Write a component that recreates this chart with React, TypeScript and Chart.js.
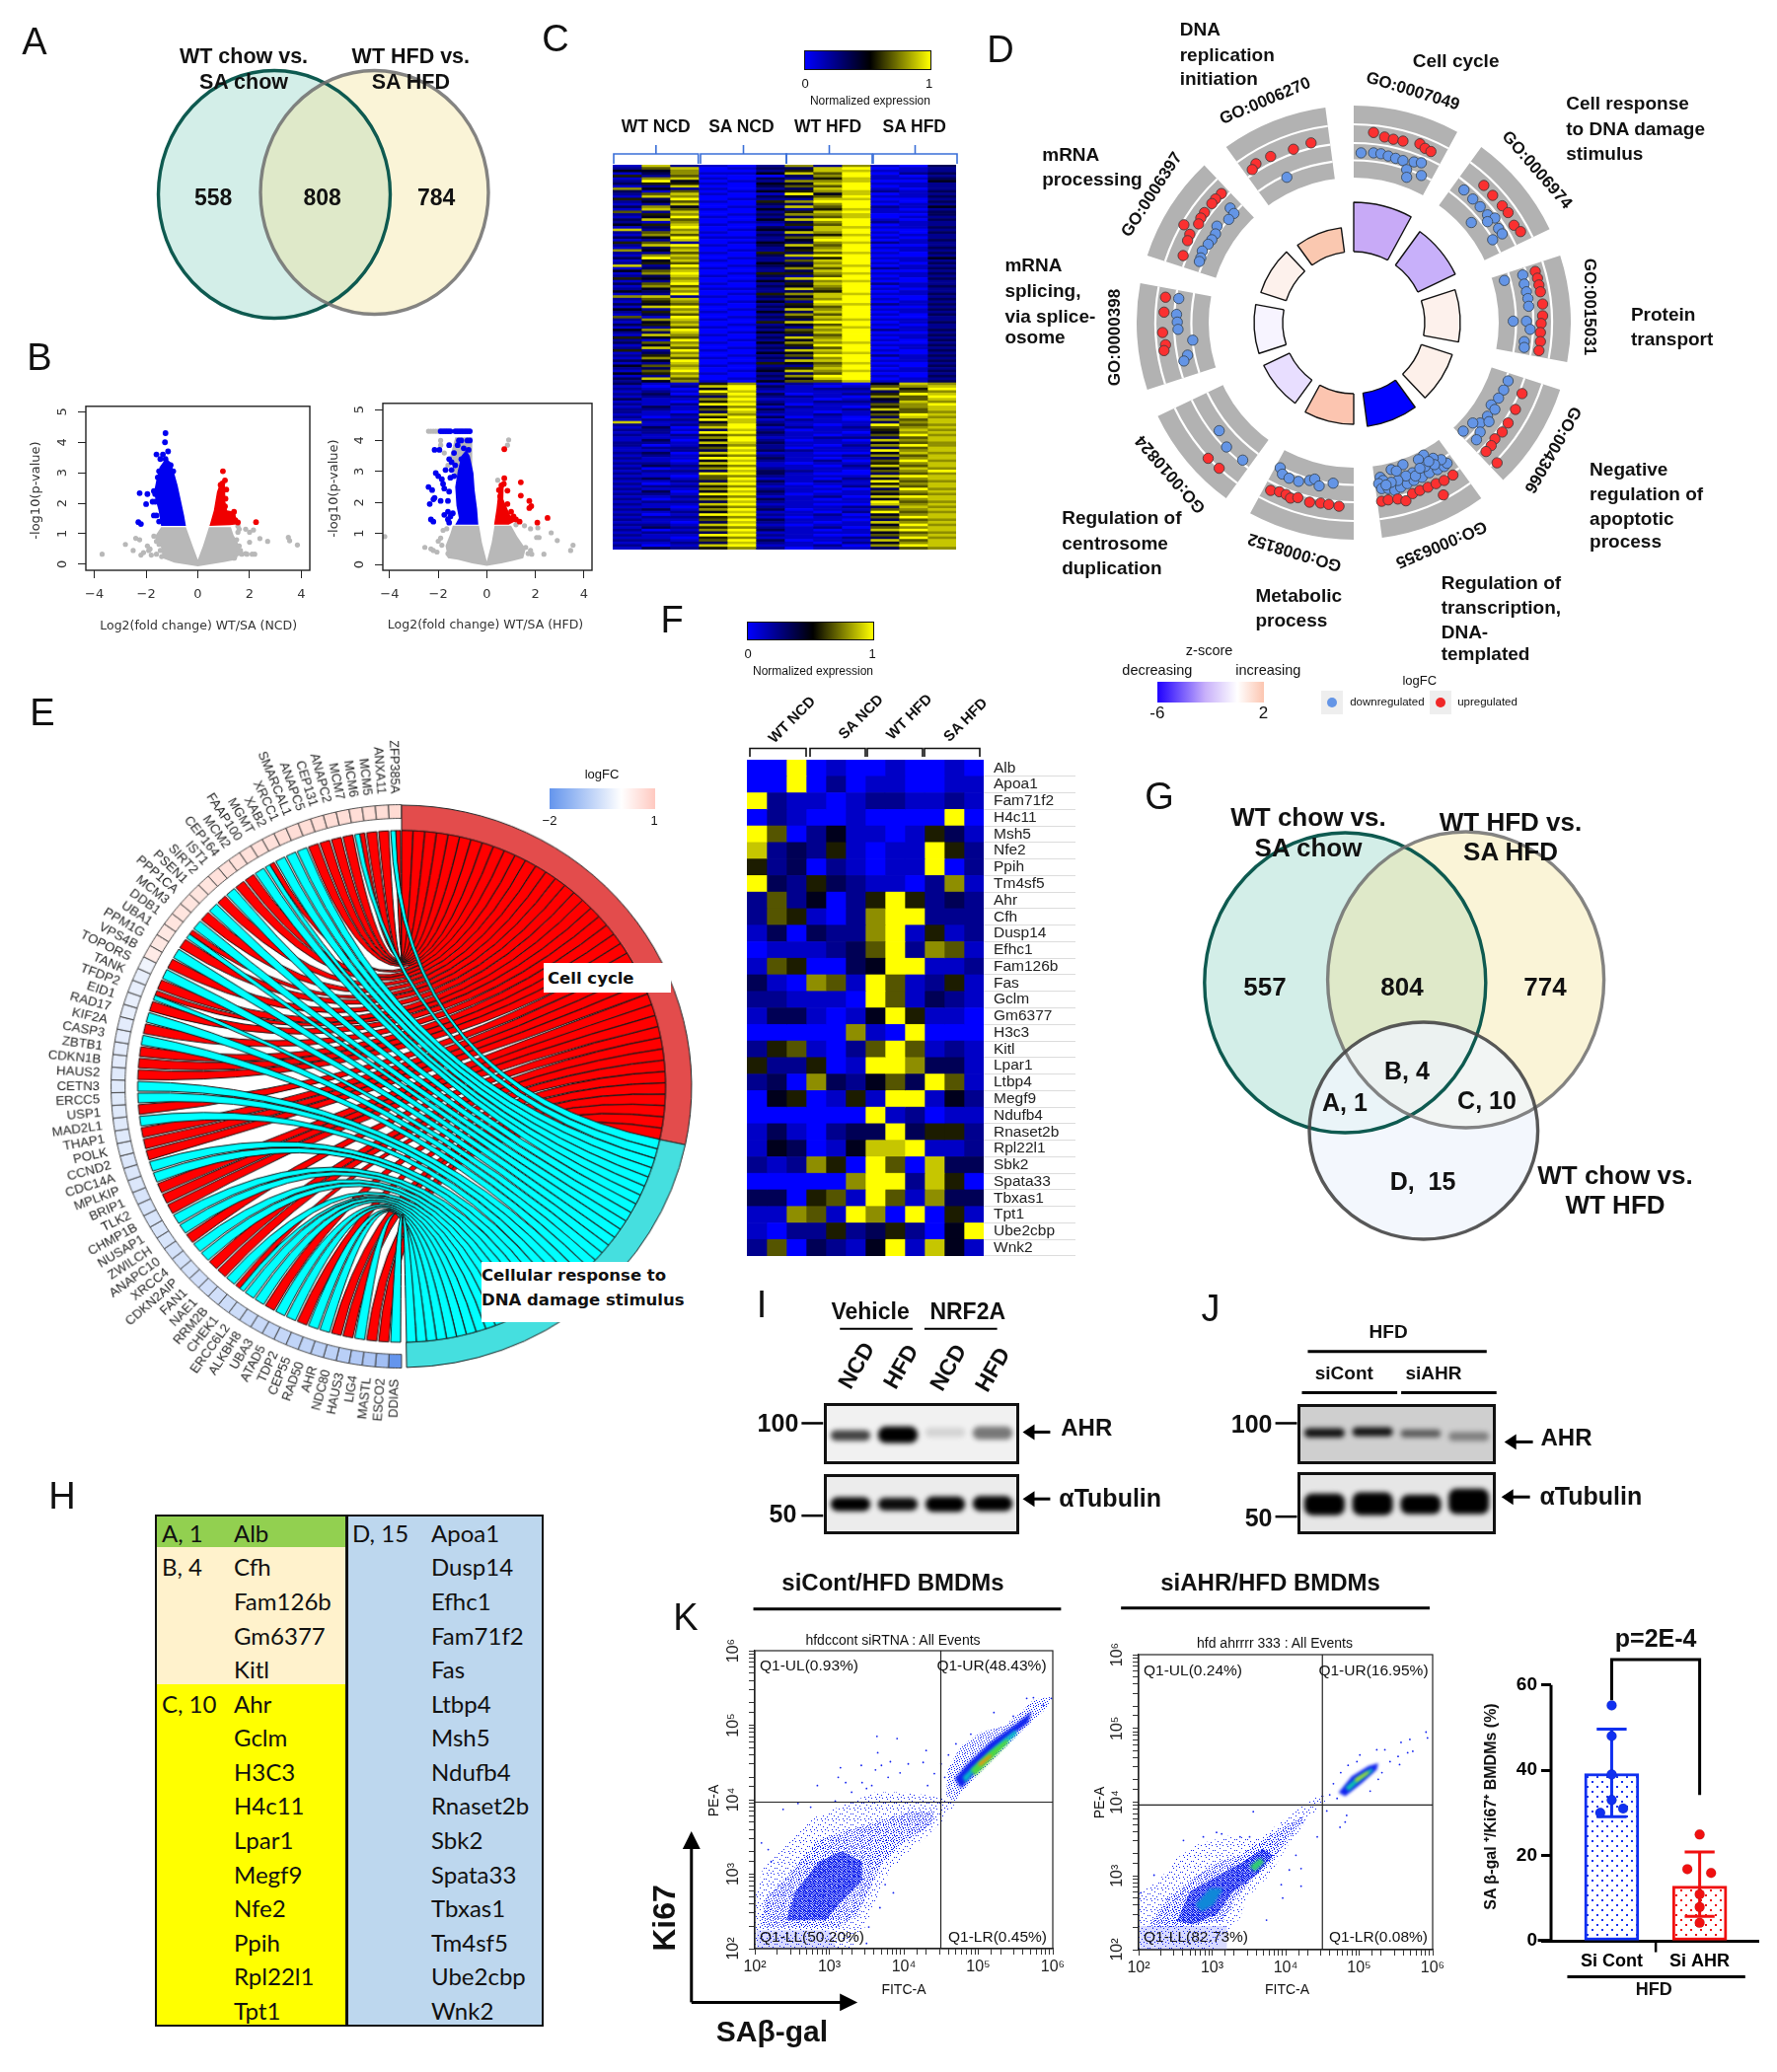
import React, { useEffect, useRef } from 'react';
import { Chart, registerables } from 'chart.js';

Chart.register(...registerables);
Chart.defaults.font.family = '"Liberation Sans", Arial, sans-serif';
Chart.defaults.color = '#222';

type Pt = number[];

// ---------- Venn sets (centre x, centre y, radius x, radius y, in panel units)
const vennA = [
  [128, 137, 117.5, 125.5, 'rgba(150,215,200,.42)', '#0e5a50'],
  [229.5, 135, 115.5, 123.5, 'rgba(243,225,150,.38)', 'rgba(110,110,110,.85)'],
];
const vennG = [
  [153.3, 176, 142.5, 152, 'rgba(150,215,200,.42)', '#0e5a50'],
  [275.6, 173, 140, 150, 'rgba(243,225,150,.38)', 'rgba(110,110,110,.85)'],
  [232.8, 326, 115.8, 110, 'rgba(240,245,252,.78)', 'rgba(70,70,70,.9)'],
];

// ---------- Volcano NCD
const v1GrayCloud: Pt[] = [[-1.42, 1.22], [-1.67, 0.9], [-1.42, 0.55], [-1.36, 0.2], [-0.91, 0.05], [0, -0.07], [1.0, 0.07], [1.5, 0.15], [1.64, 0.55], [1.38, 0.96], [1.28, 1.22], [0.43, 1.22], [0.2, 0.6], [0, 0.15], [-0.2, 0.6], [-0.46, 1.22]];
const v1Gray: Pt[] = [[-3.7, 0.33], [-2.8, 0.65], [-2.5, 0.45], [-2.4, 0.85], [-2.25, 0.8], [-2.2, 0.3], [-2.1, 0.38], [-1.95, 0.6], [-1.9, 0.45], [-1.85, 0.5], [-1.6, 0.33], [-1.8, 0.3], [-1.7, 0.92], [-1.6, 0.75], [-1.5, 0.65], [-1.45, 0.45], [-1.4, 0.25], [1.55, 1.25], [1.6, 1.15], [1.55, 1.05], [1.5, 0.8], [1.6, 0.6], [1.65, 0.45], [1.55, 0.35], [1.4, 0.2], [1.85, 1.15], [2.0, 1.05], [2.15, 1.12], [2.0, 0.72], [2.4, 0.84], [2.7, 0.75], [3.5, 0.88], [3.55, 0.77], [3.85, 0.63], [1.7, 0.33], [1.85, 0.35], [1.9, 0.33], [2.1, 0.33], [2.2, 0.33]];
const v1BlueCloud: Pt[] = [[-0.46, 1.26], [-0.53, 1.6], [-0.65, 2.07], [-0.78, 2.58], [-0.91, 2.98], [-1.04, 3.33], [-1.23, 3.48], [-1.48, 3.18], [-1.6, 2.78], [-1.67, 2.47], [-1.65, 2.17], [-1.52, 1.77], [-1.42, 1.26]];
const v1Blue: Pt[] = [[-2.25, 2.33], [-1.95, 2.3], [-2.0, 1.97], [-1.75, 2.05], [-2.3, 1.38], [-2.2, 1.32], [-1.25, 4.3], [-1.27, 4.0], [-1.6, 3.6], [-1.35, 3.6], [-1.15, 3.7], [-1.45, 3.45], [-1.25, 3.45], [-1.7, 2.4], [-1.65, 2.3], [-1.55, 2.85], [-1.5, 3.05], [-1.05, 3.25], [-0.95, 3.05], [-1.7, 1.6], [-1.6, 1.6], [-1.5, 1.4], [-1.65, 2.05]];
const v1RedCloud: Pt[] = [[0.45, 1.26], [0.62, 1.77], [0.74, 2.37], [0.87, 2.68], [1.02, 2.78], [1.06, 2.47], [1.06, 2.07], [1.13, 1.77], [1.44, 1.72], [1.5, 1.41], [1.57, 1.31], [1.25, 1.28]];
const v1Red: Pt[] = [[0.97, 3.05], [1.05, 2.75], [0.88, 2.6], [0.95, 2.65], [1.1, 2.45], [1.07, 2.15], [1.05, 1.9], [1.2, 1.65], [1.4, 1.72], [1.45, 1.45], [1.55, 1.37], [2.25, 1.38]];

// ---------- Volcano HFD
const v2GrayCloud: Pt[] = [[0, -0.05], [-0.6, 0.03], [-1.2, 0.15], [-1.6, 0.2], [-1.7, 0.6], [-1.5, 1.0], [-1.4, 1.25], [-0.32, 1.25], [-0.2, 0.7], [-0.07, 0.3], [0, 0.1], [0.07, 0.3], [0.2, 0.7], [0.32, 1.25], [1.0, 1.25], [1.25, 0.9], [1.6, 0.5], [1.5, 0.2], [1.1, 0.12], [0.6, 0.03]];
const v2GrayColumn: Pt[] = [[-0.6, 2.8], [-0.6, 4.1], [-1.3, 4.1], [-1.5, 3.5], [-1.3, 2.8]];
const v2Gray: Pt[] = [[-4.2, 0.9], [-2.55, 0.55], [-2.3, 0.5], [-2.2, 0.45], [-2.05, 0.4], [-2.0, 0.75], [-1.9, 0.85], [-1.85, 0.62], [-1.8, 1.1], [-1.65, 1.15], [-1.6, 0.35], [-1.55, 0.3], [-2.4, 4.3], [-2.3, 4.3], [-2.2, 4.3], [-2.1, 4.3], [-2.0, 4.3], [-1.95, 4.3], [-1.9, 4.0], [-1.9, 3.85], [-1.75, 3.6], [-1.6, 3.2], [0.9, 4.02], [0.85, 3.85], [0.45, 2.72], [1.2, 1.28], [1.55, 1.25], [1.8, 1.15], [2.1, 1.18], [2.65, 1.02], [2.05, 0.87], [2.15, 0.87], [2.9, 0.77], [3.55, 0.62], [3.45, 0.45], [2.35, 0.33], [1.7, 0.35], [1.8, 0.45], [1.85, 0.33], [1.6, 0.55], [1.4, 0.4]];
const v2BlueCloud: Pt[] = [[-0.35, 1.28], [-0.4, 1.8], [-0.5, 2.4], [-0.55, 2.95], [-0.7, 3.5], [-0.85, 3.7], [-1.05, 3.5], [-1.2, 3.0], [-1.3, 2.5], [-1.25, 1.9], [-1.15, 1.5], [-1.3, 1.28]];
const v2Blue: Pt[] = [[-2.4, 2.5], [-2.25, 2.4], [-2.35, 1.95], [-2.2, 2.1], [-2.15, 2.15], [-2.3, 1.45], [-2.2, 1.38], [-2.1, 2.95], [-2.15, 3.7], [-1.95, 3.7], [-2.0, 2.85], [-1.85, 2.75], [-1.8, 2.6], [-1.75, 2.45], [-1.9, 2.05], [-1.6, 2.05], [-1.55, 2.35], [-1.5, 2.8], [-1.45, 3.05], [-1.45, 3.3], [-1.35, 3.6], [-1.55, 3.4], [-1.7, 3.05], [-1.75, 1.6], [-1.6, 1.7], [-1.55, 1.35], [-1.6, 1.45], [-1.5, 1.55], [-1.4, 1.65], [-1.9, 4.3], [-1.8, 4.3], [-1.7, 4.3], [-1.6, 4.3], [-1.5, 4.3], [-1.3, 4.3], [-1.2, 4.3], [-1.1, 4.3], [-1.0, 4.3], [-0.9, 4.3], [-0.8, 4.3], [-0.7, 4.3], [-1.15, 4.0], [-1.05, 4.0], [-0.8, 4.0], [-0.7, 4.0], [-1.55, 3.85], [-1.2, 3.85], [-0.95, 3.75], [-0.75, 3.7], [-1.05, 3.4], [-1.35, 2.85], [-1.3, 3.2]];
const v2RedCloud: Pt[] = [[0.3, 1.28], [0.4, 1.8], [0.5, 2.5], [0.7, 2.7], [0.68, 2.1], [0.95, 1.6], [1.2, 1.4], [0.9, 1.28]];
const v2Red: Pt[] = [[0.72, 3.72], [0.72, 2.78], [0.7, 2.6], [0.6, 2.55], [0.5, 2.4], [0.55, 2.2], [1.4, 2.65], [0.85, 2.38], [1.75, 2.05], [1.4, 2.22], [1.83, 1.88], [1.75, 1.82], [0.85, 1.95], [1.0, 1.7], [1.2, 1.45], [1.35, 1.38], [2.08, 1.35], [2.5, 1.5], [1.1, 1.55], [0.75, 1.5]];

// ---------- Heatmap C, one digit per sample per gene (0 = low, 9 = high)
const heatCSamples = ['WT NCD 1', 'WT NCD 2', 'WT NCD 3', 'SA NCD 1', 'SA NCD 2', 'SA NCD 3', 'WT HFD 1', 'WT HFD 2', 'WT HFD 3', 'SA HFD 1', 'SA HFD 2', 'SA HFD 3'];
const heatCRows = [
  '182102727103', '268013389012', '447002588112', '137114869023', '526000379102', '178103258113', '294012778004', '355104489112', '128003669012', '742102389102',
  '316014578213', '268101948012', '187003469113', '539012288002', '246105799103', '128003379012', '374012869214', '186104258102', '628002589113', '257013778003',
  '149102368012', '386004899103', '217012379212', '458101569012', '139003288113', '827014489002', '268102879103', '176003358012', '349112689102', '128002499013',
  '562014378212', '289103869002', '137002479113', '748012589012', '226105368103', '178003899002', '397012259114', '148102689012', '256004379103', '829013488012',
  '137102769213', '468002389002', '179015578113', '238103269012', '547002899103', '128014378002', '369102589212', '176003479013', '248112869102', '437002359012',
  '129015788113', '782103489002', '268002679103', '157014299012', '346102588213', '189003469002', '427012879113', '258104389012', '136002769103', '619013589002',
  '278102378112', '147005899013', '358012469102', '126103288012', '479002679213', '238014589002', '187102369113', '546003879012', '219012489103', '367104778002',
  '148002599113', '286013369012', '529102889103', '137004478002', '258012699213', '176103379012', '349002889113', '128015468002', '467102279103', '238003589012',
  '169014878113', '457102369002', '128003799103', '386012489012', '247104668113',
  '311571210487', '102893101678', '210492122859', '121981111367', '230693012598', '122382210769', '311791101468', '110582122387', '212993011679', '131471210578',
  '221693112868', '210382101467', '112871121698', '201593010387', '122981210768', '811482111378', '212693101967', '130891212678', '221382011587', '120993110478',
  '212572101697', '111791122368', '130492010878', '221883111467', '201472102797', '122692011368', '112383211978', '230891100487', '121572112768', '211993101378',
  '110482120697', '221891011578', '132571102868', '201792111487', '122383210679', '211993100367', '110672111898', '231691102478', '112383121967', '201892011578',
  '122571102868', '211792110397', '130483101678', '221992011467', '112571120898', '201793101478', '122382111967', '211891100878', '110572112387', '231793011678',
  '112481102967', '201992120478', '122571011698', '211693110367', '110382101878', '221891011497', '132572120678', '201793101898', '122381111467', '211992100678',
  '110571112397', '221693011868', '112382102478', '201891120798', '132572011367',
];

// ---------- Heatmap F
const heatFGenes = ['Alb', 'Apoa1', 'Fam71f2', 'H4c11', 'Msh5', 'Nfe2', 'Ppih', 'Tm4sf5', 'Ahr', 'Cfh', 'Dusp14', 'Efhc1', 'Fam126b', 'Fas', 'Gclm', 'Gm6377', 'H3c3', 'Kitl', 'Lpar1', 'Ltbp4', 'Megf9', 'Ndufb4', 'Rnaset2b', 'Rpl22l1', 'Sbk2', 'Spata33', 'Tbxas1', 'Tpt1', 'Ube2cbp', 'Wnk2'];
const heatFRows = [
  '009010010010', '009020110011', '921101221121', '021001000090', '960241101531', '823251011952', '523021011902', '932532110271',
  '262402595232', '265102799222', '130322791512', '011123692761', '165003499112', '310761961251', '221110961321', '133101495110',
  '000007109000', '256102696121', '522501997331', '230732463961', '045015199142', '000000912011', '131023393552', '143014889112',
  '212750960833', '000007992850', '330561961733', '117619709051', '102252352049', '260321491841',
];

// ---------- Panel D: GO terms clockwise from the top, z-score ring
const goTerms = ['GO:0007049', 'GO:0006974', 'GO:0015031', 'GO:0043066', 'GO:0006355', 'GO:0008152', 'GO:0010824', 'GO:0000398', 'GO:0006397', 'GO:0006270'];
const goRingHeight = [122, 114, 108, 105, 106, 103, 101, 101, 99, 97];
const goRingColor = ['#c8aaf7', '#c8b0fa', '#fdf1ec', '#fdf0ea', '#0000ff', '#fcc5b0', '#e8deff', '#f7f4ff', '#fdf1ec', '#fac8b0'];
const goDown: Pt[] = [[1018, 318], [1035, 318], [1045, 320], [1055, 325], [1065, 330], [1075, 335], [1090, 338], [1100, 340], [1080, 355], [1080, 372], [1100, 368],
  [1158, 400], [1170, 420], [1180, 437], [1190, 455], [1200, 462], [1190, 470], [1205, 485], [1210, 497], [1197, 510], [1168, 472],
  [1213, 600], [1238, 588], [1240, 608], [1243, 625], [1245, 640], [1246, 657], [1225, 690], [1243, 690], [1248, 708], [1240, 735], [1240, 748],
  [1218, 822], [1212, 842], [1205, 860], [1195, 875], [1200, 885], [1190, 900], [1180, 915], [1192, 912], [1170, 915], [1157, 933], [1180, 935], [1175, 952],
  [1044, 1035], [1048, 1042], [1042, 1049], [1046, 1060], [1055, 1060], [1064, 1064], [1072, 1057], [1081, 1049], [1090, 1042], [1101, 1035], [1111, 1025], [1122, 1018], [1131, 1011], [1135, 1004], [1127, 996], [1116, 993], [1103, 986], [1096, 996], [1105, 1011], [1088, 1025], [1079, 1032], [1068, 1042], [1059, 1046], [1059, 1018], [1075, 1007], [1066, 1021], [1092, 1032], [1118, 1007], [1110, 1000], [1098, 1015], [1052, 1052],
  [908, 1014], [911, 1028], [920, 1037], [933, 1044], [948, 1042], [955, 1039], [961, 1054], [980, 1048],
  [825, 932], [835, 968], [857, 997],
  [770, 640], [767, 675], [768, 692], [769, 708], [789, 732], [782, 765], [777, 778],
  [840, 440], [845, 452], [838, 465], [822, 480], [820, 497], [815, 510], [810, 520], [802, 535], [800, 550], [798, 558],
  [917, 372]];
const goUp: Pt[] = [[1035, 273], [1050, 283], [1062, 288], [1075, 292], [1098, 298], [1105, 308], [1113, 315],
  [1185, 390], [1197, 412], [1210, 435], [1218, 450], [1226, 478], [1235, 492],
  [1255, 580], [1258, 595], [1260, 610], [1262, 625], [1265, 652], [1265, 678], [1263, 695], [1262, 715], [1262, 735], [1260, 755],
  [1237, 850], [1228, 885], [1218, 915], [1210, 935], [1200, 950], [1195, 965], [1188, 978], [1203, 1003],
  [1046, 1088], [1055, 1085], [1068, 1083], [1079, 1087], [1088, 1071], [1098, 1064], [1109, 1057], [1120, 1049], [1131, 1042], [1143, 1030], [1130, 1074],
  [895, 1064], [907, 1067], [916, 1073], [922, 1081], [932, 1080], [948, 1090], [963, 1092], [974, 1095], [988, 1099],
  [810, 993], [825, 1015],
  [752, 637], [750, 670], [748, 715], [752, 742], [750, 755],
  [828, 408], [820, 420], [815, 430], [805, 450], [800, 462], [797, 475], [777, 477], [785, 498], [782, 512], [776, 545],
  [950, 296], [926, 310], [895, 326], [875, 342], [870, 355]];

// ---------- Panel E chord
const chordTermSpan = [102, 77];
const chordGenes = ['ZFP385A', 'ANXA11', 'MCM5', 'MCM6', 'MCM7', 'ANAPC2', 'CEP131', 'ANAPC5', 'SMARCAL1', 'XRCC1', 'XAB2', 'MGMT', 'FAAP100', 'MCM2', 'CEP164', 'IST1', 'SIRT2', 'PSEN1', 'PPP1CA', 'MCM3', 'DDB1', 'UBA1', 'PPM1G', 'VPS4B', 'TOPORS', 'TANK', 'TFDP2', 'EID1', 'RAD17', 'KIF2A', 'CASP3', 'ZBTB1', 'CDKN1B', 'HAUS2', 'CETN3', 'ERCC5', 'USP1', 'MAD2L1', 'THAP1', 'POLK', 'CCND2', 'CDC14A', 'MPLKIP', 'BRIP1', 'TLK2', 'CHMP1B', 'NUSAP1', 'ZWILCH', 'ANAPC10', 'XRCC4', 'CDKN2AIP', 'FAN1', 'NAE1', 'RRM2B', 'CHEK1', 'ERCC6L2', 'ALKBH8', 'UBA3', 'ATAD5', 'TDP2', 'CEP55', 'RAD50', 'AHR', 'NDC80', 'HAUS3', 'LIG4', 'MASTL', 'ESCO2', 'DDIAS'];
const chordLinks = ['rc', 'r', 'r', 'rc', 'r', 'r', 'r', 'r', 'c', 'c', 'c', 'rc', 'c', 'r', 'r', 'c', 'r', 'c', 'r', 'c', 'rc', 'r', 'c', 'r', 'c', 'r', 'rc', 'r', 'c', 'r', 'c', 'r', 'r', 'r', 'c', 'c', 'r', 'c', 'r', 'r', 'r', 'c', 'c', 'r', 'r', 'r', 'c', 'c', 'r', 'c', 'c', 'r', 'r', 'c', 'rc', 'c', 'c', 'r', 'c', 'c', 'r', 'c', 'c', 'r', 'r', 'c', 'r', 'r', 'c'];
const chordLogFC = [.55, .5, .5, .5, .5, .5, .5, .5, .5, .5, .45, .45, .45, .45, .45, .45, .4, .4, .4, .4, .4, .35, .35, .3, -.2, -.3, -.3, -.3, -.3, -.35, -.35, -.35, -.35, -.4, -.4, -.4, -.4, -.4, -.4, -.4, -.45, -.45, -.45, -.5, -.5, -.5, -.5, -.5, -.55, -.55, -.55, -.6, -.6, -.6, -.65, -.65, -.7, -.7, -.75, -.75, -.8, -.8, -.85, -.85, -.9, -1, -1.05, -1.2, -2];

// ---------- Table H
const tableLeft = [['A, 1', 'Alb', '#92d050'], ['B, 4', 'Cfh', '#fff2cc'], ['', 'Fam126b', '#fff2cc'], ['', 'Gm6377', '#fff2cc'], ['', 'Kitl', '#fff2cc'], ['C, 10', 'Ahr', '#ffff00'], ['', 'Gclm', '#ffff00'], ['', 'H3C3', '#ffff00'], ['', 'H4c11', '#ffff00'], ['', 'Lpar1', '#ffff00'], ['', 'Megf9', '#ffff00'], ['', 'Nfe2', '#ffff00'], ['', 'Ppih', '#ffff00'], ['', 'Rpl22l1', '#ffff00'], ['', 'Tpt1', '#ffff00']];
const tableRight = ['Apoa1', 'Dusp14', 'Efhc1', 'Fam71f2', 'Fas', 'Ltbp4', 'Msh5', 'Ndufb4', 'Rnaset2b', 'Sbk2', 'Spata33', 'Tbxas1', 'Tm4sf5', 'Ube2cbp', 'Wnk2'];

// ---------- Blots: [low, high, density] per lane
const blotLanes = ['1', '2', '3', '4'];
const blotIAhr = [[.38, .56, .72], [.34, .62, 1], [.44, .6, .12], [.4, .62, .5]];
const blotITub = [[.38, .62, 1], [.39, .61, .95], [.37, .63, 1], [.38, .64, 1]];
const blotJAhr = [[.44, .6, .9], [.46, .62, .9], [.44, .58, .55], [.38, .54, .38]];
const blotJTub = [[.3, .66, 1], [.3, .68, 1], [.32, .64, 1], [.32, .74, 1]];

// ---------- Flow cytometry (log10 FITC, log10 PE)
const flowTicks = [2, 3, 4, 5, 6];
const flow1Gates = [4.497, 3.967];
const flow2Gates = [4.5, 3.962];
const flow1Band: Pt[] = [[2.02, 2], [2.02, 2.25], [3, 2.25], [3.1, 2]];
const flow1Halo: Pt[] = [[2, 2], [2, 2.69], [2.11, 3.08], [2.42, 3.39], [2.77, 3.75], [3.17, 3.92], [3.62, 4.1], [3.97, 4.1], [4.32, 4.06], [4.59, 4.0], [4.68, 3.92], [4.5, 3.7], [4.28, 3.48], [4.01, 3.26], [3.75, 2.95], [3.62, 2.64], [3.48, 2.29], [3.3, 2]];
const flow1Mid: Pt[] = [[2.07, 2.29], [2.15, 2.69], [2.46, 3], [2.82, 3.44], [3.17, 3.57], [3.62, 3.7], [4.06, 3.84], [4.41, 3.84], [4.37, 3.66], [4.01, 3.44], [3.7, 3.13], [3.57, 2.86], [3.39, 2.46], [3.13, 2.29], [2.46, 2.29]];
const flow1Dense: Pt[] = [[2.42, 2.38], [2.55, 2.77], [2.86, 3.17], [3.17, 3.31], [3.44, 3.17], [3.44, 2.91], [3.17, 2.64], [2.95, 2.38]];
const flow1Ur: Pt[] = [[4.59, 4.41], [4.77, 4.72], [5.03, 4.9], [5.34, 4.99], [5.56, 5.16], [5.74, 5.34], [5.98, 5.38], [5.92, 5.23], [5.65, 4.99], [5.38, 4.72], [5.12, 4.46], [4.85, 4.19], [4.68, 3.97], [4.57, 4.06]];
const flow1UrBlue: Pt[] = [[4.68, 4.28], [4.85, 4.48], [5.16, 4.77], [5.52, 5.03], [5.72, 5.19], [5.67, 5.03], [5.38, 4.81], [5.08, 4.5], [4.77, 4.15]];
const flow1UrCyan: Pt[] = [[4.79, 4.3], [4.99, 4.5], [5.25, 4.74], [5.5, 4.94], [5.52, 4.88], [5.21, 4.61], [4.94, 4.37], [4.83, 4.23]];
const flow1UrGreen: Pt[] = [[4.9, 4.4], [5.16, 4.65], [5.38, 4.81], [5.41, 4.77], [5.18, 4.54], [4.96, 4.32]];
const flow1UrRed: Pt[] = [[4.99, 4.48], [5.16, 4.61], [5.18, 4.58], [5.03, 4.45]];
const flow1Sparse: Pt[] = [[3.64, 4.85], [3.91, 4.82], [4.3, 4.66], [3.65, 4.63], [4.26, 4.5], [3.82, 4.51], [3.7, 4.46], [3.43, 4.46], [3.15, 4.43], [3.62, 4.4], [3.12, 4.3], [3.22, 4.23], [2.84, 4.19], [3.44, 4.23], [3.57, 4.19], [3.95, 4.36], [3.79, 4.3], [4.06, 4.48], [2.38, 3.87], [2.09, 3.42], [2.58, 3.95], [2.75, 3.9], [3.08, 3.98], [2.18, 3.33], [2.22, 3.17], [4.9, 4.88], [5.21, 5.17], [5.47, 5.12], [5.65, 5.36], [5.74, 5.37], [5.87, 5.27], [5.98, 5.36], [4.32, 4.19], [4.41, 4.35], [4.5, 4.48], [3.86, 2.75], [3.68, 2.55], [3.5, 2.07], [3.53, 2.29], [3.75, 2.86], [4.55, 4.3], [4.6, 4.6], [4.7, 4.75], [3.3, 4.1], [3.5, 4.15]];
const flow2Band: Pt[] = [[2.02, 2], [2.02, 2.32], [3.2, 2.32], [3.2, 2]];
const flow2Halo: Pt[] = [[2, 2.01], [2, 2.77], [2.26, 2.92], [2.52, 3.24], [2.79, 3.42], [3.24, 3.55], [3.6, 3.5], [3.87, 3.68], [4.23, 3.95], [4.5, 4.13], [4.54, 4.0], [4.27, 3.73], [4.0, 3.37], [3.78, 3.01], [3.47, 2.7], [3.38, 2.43], [3.02, 2.01]];
const flow2Mid: Pt[] = [[2.12, 2.3], [2.39, 2.7], [2.75, 2.97], [3.06, 3.19], [3.38, 3.28], [3.65, 3.46], [4.0, 3.68], [4.23, 3.82], [4.25, 3.73], [4.0, 3.46], [3.78, 3.15], [3.56, 2.97], [3.33, 2.7], [3.15, 2.39], [2.57, 2.3]];
const flow2Dense: Pt[] = [[2.52, 2.39], [2.7, 2.79], [3.02, 2.97], [3.42, 3.19], [3.69, 3.37], [3.83, 3.28], [3.6, 3.01], [3.29, 2.79], [3.06, 2.48], [2.74, 2.34]];
const flow2Cyan: Pt[] = [[2.77, 2.61], [2.97, 2.83], [3.15, 2.83], [3.02, 2.61], [2.86, 2.52]];
const flow2Green: Pt[] = [[3.51, 3.13], [3.65, 3.24], [3.71, 3.19], [3.58, 3.06]];
const flow2Ur: Pt[] = [[4.72, 4.13], [4.9, 4.35], [5.13, 4.49], [5.26, 4.53], [5.24, 4.44], [5.04, 4.26], [4.81, 4.08]];
const flow2UrCyan: Pt[] = [[4.81, 4.2], [4.99, 4.35], [5.17, 4.46], [5.19, 4.42], [5.01, 4.29], [4.86, 4.15]];
const flow2UrYellow: Pt[] = [[4.94, 4.31], [5.12, 4.42], [5.13, 4.39], [4.96, 4.27]];
const flow2Sparse: Pt[] = [[5.91, 4.95], [5.93, 4.87], [5.69, 4.85], [5.57, 4.81], [5.73, 4.69], [5.66, 4.67], [5.53, 4.62], [5.42, 4.55], [5.55, 4.51], [5.35, 4.71], [5.24, 4.71], [5.01, 4.64], [4.97, 4.55], [5.31, 4.4], [5.15, 4.15], [5.26, 4.31], [4.74, 3.66], [4.83, 3.82], [4.81, 3.73], [4.56, 3.88], [4.43, 3.53], [3.56, 3.87], [2.88, 3.53], [2.61, 3.48], [3.06, 3.59], [3.13, 3.57], [3.38, 3.53], [3.51, 3.53], [4.14, 3.28], [4.21, 3.1], [4.21, 2.86], [4.05, 3.08], [3.94, 2.88], [3.96, 2.7], [3.74, 2.4], [2.21, 3.01], [2.03, 2.77], [4.6, 4.1], [4.65, 4.25], [4.75, 4.4], [4.85, 4.5], [4.7, 4.05]];

// ---------- Bar panel K
const barLabels = ['Si Cont', 'Si AHR'];
const barMeans = [39.2, 12.8];
const barTop = [49.6, 20.8];
const barBottom = [29.1, 5.7];
const siContPoints: Pt[] = [[0, 55.2], [0, 48], [0, 39], [0, 33], [0.13, 31], [-0.13, 30]];
const siAhrPoints: Pt[] = [[1, 24.9], [0.86, 16.8], [1.13, 15.9], [1, 10.9], [1, 7.9], [1, 4.2]];
const barBracket: Pt[] = [[0, 56.4], [0, 65.9], [1, 65.9], [1, 34.2]];

// ---------- helpers
const obj = (a: Pt[], xf = (v: number) => v) => a.map(([x, y]) => ({ x: xf(x), y: xf(y) }));
const poly = (a: Pt[], color: any, xf?: (v: number) => number, soft = false) => ({ soft, data: obj(a, xf), showLine: true, fill: 'shape', backgroundColor: color, borderColor: 'transparent', borderWidth: 0, pointRadius: 0 });
const dots = (a: Pt[], color: string, r: number, xf?: (v: number) => number, border?: string) => ({ data: obj(a, xf), backgroundColor: color, borderColor: border || color, borderWidth: border ? 0.9 : 0, pointRadius: r, showLine: false });
const heatColor = (d: number) => {
  const t = d / 9;
  if (t < 0.5) return `rgb(0,0,${Math.round(255 * (1 - 2 * t))})`;
  const v = Math.round(255 * (2 * t - 1));
  return `rgb(${v},${v},0)`;
};
const base = (extra: any = {}) => ({
  responsive: false, animation: false, events: [], maintainAspectRatio: false,
  plugins: { legend: { display: false }, tooltip: { enabled: false } }, ...extra,
});
const stipple = (dot: string, bg: string | null, cells: number[][], size: number) => {
  const tile = document.createElement('canvas');
  tile.width = size; tile.height = size;
  const c = tile.getContext('2d')!;
  if (bg) { c.fillStyle = bg; c.fillRect(0, 0, size, size); }
  c.fillStyle = dot;
  cells.forEach(([x, y, w]) => c.fillRect(x, y, w || 1, w || 1));
  return document.createElement('canvas').getContext('2d')!.createPattern(tile, 'repeat');
};
const frame = (lw: number, color = '#222') => ({
  id: 'frame',
  afterDatasetsDraw(ch: any) {
    const { left, top, width, height } = ch.chartArea; const c = ch.ctx;
    c.save(); c.lineWidth = lw; c.strokeStyle = color; c.strokeRect(left, top, width, height); c.restore();
  },
});
const softLayers = {
  id: 'softLayers',
  beforeDatasetsDraw(ch: any) {
    const n = ch.data.datasets.length - 1;
    ch.ctx.filter = ch.data.datasets[n].soft ? 'blur(1.4px)' : 'none';
  },
  afterDatasetDraw(ch: any, args: any) {
    const next = ch.data.datasets[args.index - 1];
    ch.ctx.filter = next && next.soft ? 'blur(1.4px)' : 'none';
  },
  afterDatasetsDraw(ch: any) { ch.ctx.filter = 'none'; },
};
const ellipses = (list: any[]) => ({
  id: 'ellipses',
  beforeDatasetsDraw(ch: any) {
    const c = ch.ctx; const sx = ch.scales.x; const sy = ch.scales.y;
    const path = (cx: number, cy: number, rx: number, ry: number) => {
      c.beginPath(); c.ellipse(sx.getPixelForValue(cx), sy.getPixelForValue(cy), Math.abs(sx.getPixelForValue(cx + rx) - sx.getPixelForValue(cx)), Math.abs(sy.getPixelForValue(cy + ry) - sy.getPixelForValue(cy)), 0, 0, Math.PI * 2);
    };
    list.forEach(([cx, cy, rx, ry, fill]) => { path(cx, cy, rx, ry); c.fillStyle = fill; c.fill(); });
    list.forEach(([cx, cy, rx, ry, , stroke]) => { path(cx, cy, rx, ry); c.lineWidth = 3.4; c.strokeStyle = stroke; c.stroke(); });
  },
});

const vennCfg = (list: any[], w: number, h: number) => () => ({
  type: 'scatter',
  data: { datasets: [{ data: list.map((e) => ({ x: e[0], y: e[1] })), pointRadius: 0 }] },
  options: base({ layout: { padding: 0 }, scales: { x: { display: false, min: 0, max: w }, y: { display: false, min: 0, max: h, reverse: true } } }),
  plugins: [ellipses(list)],
});

const volcanoCfg = (xr: number[], yr: number[], layers: any[]) => () => ({
  type: 'scatter',
  data: { datasets: layers.slice().reverse() },
  options: base({
    layout: { padding: { top: 8, right: 12, left: 0, bottom: 0 } },
    scales: {
      x: {
        min: xr[0], max: xr[1], afterFit: (s: any) => { s.height = 36; },
        border: { display: false }, grid: { drawOnChartArea: false, tickLength: 8, tickColor: '#222' },
        ticks: { stepSize: 2, includeBounds: false, padding: 9, maxRotation: 0, color: '#333', font: { size: 13, family: 'DejaVu Sans' }, callback: (v: number) => (v < 0 ? '\u2212' + -v : String(v)) },
      },
      y: {
        min: yr[0], max: yr[1], afterFit: (s: any) => { s.width = 40; },
        border: { display: false }, grid: { drawOnChartArea: false, tickLength: 8, tickColor: '#222' },
        ticks: { stepSize: 1, includeBounds: false, padding: 11, minRotation: 90, maxRotation: 90, crossAlign: 'center', color: '#333', font: { size: 13, family: 'DejaVu Sans' } },
      },
    },
  }),
  plugins: [frame(1.4)],
});

const heatDatasets = (rows: string[], samples: number) => {
  const out: any[] = [];
  for (let col = 0; col < samples; col++) {
    out.push({ data: rows.map(() => 1), backgroundColor: rows.map((r) => heatColor(Number(r[col]))), barPercentage: 1, categoryPercentage: 1, borderWidth: 0 });
  }
  return out;
};

const heatCCfg = () => ({
  type: 'bar',
  data: { labels: heatCRows.map((_, i) => String(i + 1)), datasets: heatDatasets(heatCRows, heatCSamples.length) },
  options: base({ indexAxis: 'y', layout: { padding: 0 }, scales: { x: { display: false, stacked: true, min: 0, max: 12 }, y: { display: false, stacked: true } } }),
});

const heatFCfg = () => ({
  type: 'bar',
  data: { labels: heatFGenes, datasets: heatDatasets(heatFRows, 12) },
  options: base({
    indexAxis: 'y', layout: { padding: 0 },
    scales: {
      x: { display: false, stacked: true, min: 0, max: 12 },
      y: {
        position: 'right', stacked: true, afterFit: (s: any) => { s.width = 93; }, border: { display: false },
        grid: { drawOnChartArea: false, offset: true, tickLength: 93, tickColor: '#dcdcdc' },
        ticks: { padding: -83, autoSkip: false, color: '#222', font: { size: 15.5 } },
      },
    },
  }),
});

const goSpan = 28.5;
const goRingValues = goRingHeight.flatMap((v) => [v, 0]);
const goGrayValues = goRingHeight.flatMap(() => [220, 0]);
const goAngle = (c: any) => (c.dataset.sectors ? (c.dataIndex % 2 === 0 ? goSpan : 36 - goSpan) : 360);
const goRingCfg = () => ({
  type: 'polarArea',
  data: {
    labels: goTerms.flatMap((g) => [g, '']),
    datasets: [
      { sectors: true, data: goGrayValues, backgroundColor: '#b2b2b2', borderWidth: 0 },
      { data: [147], backgroundColor: '#fff', borderWidth: 0 },
      { sectors: true, data: goRingValues, backgroundColor: goRingColor.flatMap((c) => [c, 'transparent']), borderColor: goRingColor.flatMap(() => ['#111', 'transparent']), borderWidth: 1.4 },
      { data: [72], backgroundColor: '#fff', borderWidth: 0 },
    ].reverse(),
  },
  options: base({ layout: { padding: 0 }, datasets: { polarArea: { angle: goAngle } }, scales: { r: { display: false, min: 0, max: 220, startAngle: 0 } } }),
});
const goTracks = [164.5, 182, 201];
const goArcs = {
  id: 'goArcs',
  beforeDatasetsDraw(ch: any) {
    const c = ch.ctx; const cx = ch.width / 2; const cy = ch.height / 2;
    goTerms.forEach((_, i) => {
      const a = ((36 * i - 90) * Math.PI) / 180; const b = ((36 * i + goSpan - 90) * Math.PI) / 180;
      goTracks.forEach((r) => { c.beginPath(); c.arc(cx, cy, r, a, b); c.lineWidth = 2.2; c.strokeStyle = '#fff'; c.stroke(); });
      c.beginPath(); c.arc(cx, cy, 72, a, b); c.lineWidth = 1.4; c.strokeStyle = '#111'; c.stroke();
    });
  },
};
const goDotsCfg = () => ({
  type: 'scatter',
  data: { datasets: [dots(goUp, '#fb3030', 5.2, undefined, '#4a3a3a'), dots(goDown, '#6495e6', 5.2, undefined, '#3a4a5a')] },
  options: base({ layout: { padding: 0 }, scales: { x: { display: false, min: 720.9, max: 1295.1 }, y: { display: false, min: 226.8, max: 1159.6, reverse: true } } }),
  plugins: [goArcs],
});

// chord
const chordR = 263;
const fcColor = (v: number) => {
  if (v >= 0) { const t = v; return `rgb(255,${Math.round(255 - 66 * t)},${Math.round(255 - 80 * t)})`; }
  const t = -v / 2; return `rgb(${Math.round(255 - 155 * t)},${Math.round(255 - 106 * t)},${Math.round(255 - 18 * t)})`;
};
const chordRibbons = {
  id: 'chordRibbons',
  afterDatasetsDraw(ch: any) {
    const c = ch.ctx; const arcs = ch.getDatasetMeta(0).data; const cx = arcs[0].x; const cy = arcs[0].y;
    const gw = Math.PI / chordGenes.length;
    const draw = (key: string, termIdx: number, fill: string) => {
      const n = chordLinks.filter((l) => l.includes(key)).length;
      const s = arcs[termIdx].startAngle; const e = arcs[termIdx].endAngle; const w = (e - s) / n;
      let slot = 0;
      chordLinks.forEach((l, i) => {
        if (!l.includes(key)) return;
        const geneTop = 1.5 * Math.PI - i * gw; const geneLow = geneTop - gw;
        let g1 = geneLow + gw * 0.08; let g2 = geneTop - gw * 0.08;
        if (l.length === 2) { const mid = (g1 + g2) / 2; if (key === 'r') { g1 = mid; } else { g2 = mid; } }
        const t1 = s + slot * w; const t2 = t1 + w * 0.97; slot += 1;
        c.beginPath(); c.arc(cx, cy, chordR, g1, g2);
        c.quadraticCurveTo(cx, cy, cx + chordR * Math.cos(t1), cy + chordR * Math.sin(t1));
        c.arc(cx, cy, chordR, t1, t2);
        c.quadraticCurveTo(cx, cy, cx + chordR * Math.cos(g1), cy + chordR * Math.sin(g1));
        c.closePath(); c.fillStyle = fill; c.fill(); c.lineWidth = 1; c.strokeStyle = '#151515'; c.stroke();
      });
    };
    draw('r', 0, '#ff0000');
    draw('c', 1, '#00ffff');
  },
};
const chordTermCfg = () => ({
  type: 'doughnut',
  data: { labels: ['Cell cycle', 'Cellular response to DNA damage stimulus', ''], datasets: [{ data: [...chordTermSpan, 360 - chordTermSpan[0] - chordTermSpan[1]], backgroundColor: ['#e34c4c', '#45dfdf', 'transparent'], borderColor: ['#222', '#222', 'transparent'], borderWidth: 1 }] },
  options: base({ layout: { padding: 0 }, radius: 289, cutout: `${(chordR / 289) * 100}%`, rotation: 0 }),
  plugins: [chordRibbons],
});
const chordGeneLabels = {
  id: 'chordGeneLabels',
  afterDatasetsDraw(ch: any) {
    const c = ch.ctx; const arcs = ch.getDatasetMeta(0).data;
    const order = chordGenes.slice().reverse();
    order.forEach((g, i) => {
      const a = arcs[i]; const mid = (a.startAngle + a.endAngle) / 2;
      const r = 301; const x = a.x + r * Math.cos(mid); const y = a.y + r * Math.sin(mid);
      c.save(); c.translate(x, y); c.rotate(mid + Math.PI);
      c.font = '13px "Liberation Sans"'; c.fillStyle = '#222'; c.textAlign = 'right'; c.textBaseline = 'middle';
      c.fillText(g, 0, 0); c.restore();
    });
  },
};
const chordGeneCfg = () => {
  const order = chordLogFC.slice().reverse();
  return {
    type: 'doughnut',
    data: { labels: [...chordGenes.slice().reverse(), ''], datasets: [{ data: [...order.map(() => 1), order.length], backgroundColor: [...order.map(fcColor), 'transparent'], borderColor: [...order.map(() => '#3a3a3a'), 'transparent'], borderWidth: 0.9, spacing: 3 }] },
    options: base({ layout: { padding: 0 }, radius: 288, cutout: `${(274 / 288) * 100}%`, rotation: 180 }),
    plugins: [chordGeneLabels],
  };
};

// blot
const blotCfg = (lanes: number[][], bg: string) => () => ({
  type: 'bar',
  data: { labels: blotLanes, datasets: [{ data: lanes.map((l) => [l[0], l[1]]), backgroundColor: lanes.map((l) => `rgba(0,0,0,${l[2]})`), barPercentage: 0.84, categoryPercentage: 1, borderRadius: 8, borderSkipped: false }] },
  options: base({ layout: { padding: { left: 3, right: 3, top: 1, bottom: 1 } }, scales: { x: { display: false }, y: { display: false, min: 0, max: 1 } } }),
  plugins: [{
    id: 'blot',
    beforeDatasetsDraw(ch: any) {
      const c = ch.ctx; c.fillStyle = bg; c.fillRect(0, 0, ch.width, ch.height); c.filter = 'blur(2.5px)';
    },
    afterDatasetsDraw(ch: any) {
      const c = ch.ctx; c.filter = 'none'; c.lineWidth = 3; c.strokeStyle = '#111'; c.strokeRect(1.5, 1.5, ch.width - 3, ch.height - 3);
    },
  }],
});

// flow
const exp10 = (v: number) => 10 ** v;
const supers: Record<number, string> = { 2: '\u00b2', 3: '\u00b3', 4: '\u2074', 5: '\u2075', 6: '\u2076' };
const flowAxis = (horizontal: boolean) => ({
  type: 'logarithmic', min: exp10(flowTicks[0]), max: exp10(flowTicks[flowTicks.length - 1]),
  afterFit: (s: any) => { if (horizontal) s.height = 34; else s.width = 44; },
  border: { color: '#222', width: 1.2 }, grid: { drawOnChartArea: false, tickLength: 6, tickColor: '#333' },
  ticks: {
    autoSkip: false, padding: 3, color: '#222', font: { size: 16 },
    ...(horizontal ? { maxRotation: 0 } : { minRotation: 90, maxRotation: 90, crossAlign: 'center' }),
    callback: (v: number) => { const l = Math.round(Math.log10(v) * 1e6) / 1e6; return flowTicks.includes(l) ? '10' + supers[l] : ''; },
  },
});
const flowCfg = (gates: number[], layers: () => any[]) => () => ({
  type: 'scatter',
  data: {
    datasets: [
      ...layers(),
      { data: [{ x: exp10(gates[0]), y: 1e2 }, { x: exp10(gates[0]), y: 1e6 }], showLine: true, borderColor: '#222', borderWidth: 1.2, pointRadius: 0 },
      { data: [{ x: 1e2, y: exp10(gates[1]) }, { x: 1e6, y: exp10(gates[1]) }], showLine: true, borderColor: '#222', borderWidth: 1.2, pointRadius: 0 },
    ].reverse(),
  },
  options: base({ layout: { padding: { top: 16, right: 20, left: 0, bottom: 0 } }, scales: { x: flowAxis(true), y: flowAxis(false) } }),
  plugins: [softLayers, frame(1.2)],
});
const tileSparse = () => stipple('#1020f0', null, [[2, 1], [8, 0], [5, 3], [0, 5], [9, 5], [3, 7], [7, 8], [1, 10], [5, 10]], 11);
const tileMid = () => stipple('#1020f0', null, [[0, 0], [3, 0], [6, 1], [1, 2], [4, 3], [7, 3], [2, 4], [0, 5], [5, 5], [3, 6], [6, 7], [1, 7]], 8);
const tileDense = () => stipple('#0a1ae8', 'rgba(110,125,255,.55)', [[0, 0], [1, 0], [3, 0], [2, 1], [4, 1], [0, 2], [1, 2], [3, 2], [2, 3], [4, 3], [0, 4], [3, 4], [4, 4]], 5);
const bandFill = 'rgba(185,190,255,.55)';
const flow1Layers = () => [
  poly(flow1Band, bandFill, exp10), poly(flow1Halo, tileSparse(), exp10), poly(flow1Mid, tileMid(), exp10), poly(flow1Dense, tileDense(), exp10),
  poly(flow1Ur, tileMid(), exp10), poly(flow1UrBlue, '#1024f0', exp10, true), poly(flow1UrCyan, '#08b8c8', exp10, true), poly(flow1UrGreen, '#50d840', exp10, true), poly(flow1UrRed, '#f09010', exp10, true),
  dots(flow1Sparse, '#1020f0', 0.9, exp10),
];
const flow2Layers = () => [
  poly(flow2Band, bandFill, exp10), poly(flow2Halo, tileSparse(), exp10), poly(flow2Mid, tileMid(), exp10), poly(flow2Dense, tileDense(), exp10), poly(flow2Cyan, '#1088d8', exp10, true), poly(flow2Green, '#30d070', exp10, true),
  poly(flow2Ur, '#1024f0', exp10, true), poly(flow2UrCyan, '#10c0b0', exp10, true), poly(flow2UrYellow, '#c0d820', exp10, true),
  dots(flow2Sparse, '#1020f0', 0.9, exp10),
];

// bar K
const barXMin = -0.689;
const barCfg = () => {
  const caps = (i: number) => [[i - 0.17, barTop[i]], [i + 0.17, barTop[i]], [i, barTop[i]], [i, barBottom[i]], [i - 0.17, barBottom[i]], [i + 0.17, barBottom[i]]];
  const blueDots = stipple('#1030f0', '#fff', [[1, 1, 2], [6, 6, 2]], 10);
  const redDots = stipple('#f01010', '#fff', [[1, 1, 2], [6, 6, 2]], 10);
  const lineSet = (a: Pt[], color: string, order: number, w = 3) => ({ type: 'line', data: obj(a), borderColor: color, borderWidth: w, pointRadius: 0, order, clip: false, tension: 0, fill: false });
  return {
    type: 'bar',
    data: {
      datasets: [
        { type: 'scatter', data: obj(siContPoints), backgroundColor: '#1030f0', pointRadius: 5, order: 1 },
        { type: 'scatter', data: obj(siAhrPoints), backgroundColor: '#f01010', pointRadius: 5, order: 1 },
        lineSet(caps(0), '#1030f0', 2), lineSet(caps(1), '#f01010', 2),
        lineSet(barBracket, '#000', 2),
        lineSet([[barXMin, 0], [barXMin, 60]], '#000', 2, 3),
        { type: 'bar', data: barMeans.map((y, x) => ({ x, y })), backgroundColor: [blueDots, redDots], borderColor: ['#1030f0', '#f01010'], borderWidth: 3, barThickness: 55, order: 5, borderSkipped: false },
      ],
    },
    options: base({
      layout: { padding: { top: 10, right: 10, left: 0, bottom: 0 } },
      scales: {
        x: {
          type: 'linear', offset: false, min: barXMin, max: 1.666, afterFit: (s: any) => { s.height = 40; }, border: { color: '#000', width: 3 },
          grid: { display: false, drawTicks: false, offset: false },
          ticks: { stepSize: 1, includeBounds: false, padding: 10, maxRotation: 0, color: '#000', font: { size: 18, weight: 'bold' }, callback: (v: number) => barLabels[v] ?? '' },
        },
        y: {
          min: 0, max: 70, afterFit: (s: any) => { s.width = 75; }, afterBuildTicks: (s: any) => { s.ticks = s.ticks.filter((t: any) => t.value <= 60); }, border: { display: false },
          grid: { drawOnChartArea: false, tickWidth: 3, tickColor: '#000', tickLength: 10 },
          ticks: { stepSize: 20, padding: 4, color: '#000', font: { size: 19, weight: 'bold' } },
        },
      },
    }),
  };
};

// ---------- panel layout in page pixels
const chordStretch = 'scale(1.017,0.986)';
const panels: { x: number; y: number; w: number; h: number; t?: string; cfg: () => any }[] = [
  { x: 150, y: 60, w: 360, h: 275, cfg: vennCfg(vennA, 360, 275) },
  { x: 47, y: 393, w: 279, h: 221, cfg: volcanoCfg([-4.33, 4.33], [-0.2, 5.18], [poly(v1GrayCloud, '#b8b8b8'), dots(v1Gray, '#b8b8b8', 2.6), poly(v1BlueCloud, '#0000f0'), dots(v1Blue, '#0000f0', 2.9), poly(v1RedCloud, '#f00000'), dots(v1Red, '#f00000', 2.9)]) },
  { x: 348, y: 390, w: 264, h: 224, cfg: volcanoCfg([-4.28, 4.33], [-0.19, 5.2], [poly(v2GrayCloud, '#b8b8b8'), poly(v2GrayColumn, '#b8b8b8'), dots(v2Gray, '#b8b8b8', 2.6), poly(v2BlueCloud, '#0000f0'), dots(v2Blue, '#0000f0', 2.9), poly(v2RedCloud, '#f00000'), dots(v2Red, '#f00000', 2.9)]) },
  { x: 621, y: 167, w: 348, h: 390, cfg: heatCCfg },
  { x: 1152, y: 107, w: 440, h: 440, cfg: goRingCfg },
  { x: 1152, y: 107, w: 440, h: 440, cfg: goDotsCfg },
  { x: 17, y: 711, w: 780, h: 780, t: chordStretch, cfg: chordGeneCfg },
  { x: 117, y: 811, w: 580, h: 580, t: chordStretch, cfg: chordTermCfg },
  { x: 757, y: 770, w: 333, h: 503, cfg: heatFCfg },
  { x: 1210, y: 820, w: 430, h: 450, cfg: vennCfg(vennG, 430, 450) },
  { x: 835, y: 1422, w: 198, h: 62, cfg: blotCfg(blotIAhr, '#f1f1f1') },
  { x: 835, y: 1494, w: 198, h: 61, cfg: blotCfg(blotITub, '#ececec') },
  { x: 1315, y: 1423, w: 201, h: 61, cfg: blotCfg(blotJAhr, '#cfcfcf') },
  { x: 1315, y: 1492, w: 201, h: 63, cfg: blotCfg(blotJTub, '#e6e6e6') },
  { x: 721, y: 1657, w: 366, h: 352, cfg: flowCfg(flow1Gates, flow1Layers) },
  { x: 1110, y: 1661, w: 362, h: 349, cfg: flowCfg(flow2Gates, flow2Layers) },
  { x: 1497, y: 1649, w: 295, h: 358, cfg: barCfg },
];

function ChartPanel({ p }: { p: (typeof panels)[number] }) {
  const ref = useRef<HTMLCanvasElement>(null);
  useEffect(() => {
    const chart = new Chart(ref.current as any, p.cfg());
    return () => chart.destroy();
  }, [p]);
  return <canvas ref={ref} width={p.w} height={p.h} style={{ position: 'absolute', left: p.x, top: p.y, width: p.w, height: p.h, transform: p.t }} />;
}

const L = '"Liberation Sans", Arial, sans-serif';
const DJ = '"DejaVu Sans", sans-serif';
type Tx = [string, number, number, number, any?];
const B = { w: 700 };
const BL = { w: 700, a: 'l' };
const rescale = (items: Tx[], x0: number, kx: number, y0: number, ky: number): Tx[] => items.map(([s, x, y, z, o]) => [s, x0 + (x - x0) * kx, y0 + (y - y0) * ky, z, o]);

const letterTexts: Tx[] = [['A', 35, 42, 38], ['B', 40, 362, 38], ['C', 563, 39, 38], ['D', 1014, 50, 38], ['E', 43, 722, 38], ['F', 681, 628, 38], ['G', 1175, 807, 38], ['H', 63, 1516, 38], ['I', 772, 1322, 38], ['J', 1227, 1326, 38], ['K', 695, 1639, 38]];
const textsAB: Tx[] = [
  ['WT chow vs.', 248, 58, 21.5, B], ['SA chow', 248, 84, 21.5, B], ['WT HFD vs.', 418, 58, 21.5, B], ['SA HFD', 418, 84, 21.5, B], ['558', 217, 201, 23, B], ['808', 328, 201, 23, B], ['784', 444, 201, 23, B],
  ['Log2(fold change) WT/SA (NCD)', 202, 636, 12.5, { f: DJ, c: '#333' }], ['Log2(fold change) WT/SA (HFD)', 494, 635, 12.5, { f: DJ, c: '#333' }],
  ['-log10(p-value)', 35, 499, 13, { f: DJ, r: -90, c: '#333' }], ['-log10(p-value)', 338, 497, 13, { f: DJ, r: -90, c: '#333' }],
];
const textsCD: Tx[] = [
  ['0', 817, 84, 13], ['1', 943, 84, 13], ['Normalized expression', 883, 103, 12],
  ['WT NCD', 665, 130, 17.5, B], ['SA NCD', 752, 130, 17.5, B], ['WT HFD', 840, 130, 17.5, B], ['SA HFD', 928, 130, 17.5, B],
  ['DNA', 1198, 29, 19, BL], ['replication', 1198, 55, 19, BL], ['initiation', 1198, 79, 19, BL],
  ['Cell cycle', 1435, 61, 19, BL], ['Cell response', 1591, 105, 19, BL], ['to DNA damage', 1591, 131, 19, BL], ['stimulus', 1591, 156, 19, BL],
  ['Protein', 1657, 320, 19, BL], ['transport', 1657, 345, 19, BL],
  ['Negative', 1615, 478, 19, BL], ['regulation of', 1615, 503, 19, BL], ['apoptotic', 1615, 528, 19, BL], ['process', 1615, 551, 19, BL],
  ['Regulation of', 1464, 593, 19, BL], ['transcription,', 1464, 619, 19, BL], ['DNA-', 1464, 644, 19, BL], ['templated', 1464, 666, 19, BL],
  ['Metabolic', 1275, 606, 19, BL], ['process', 1275, 632, 19, BL],
  ['Regulation of', 1078, 527, 19, BL], ['centrosome', 1078, 553, 19, BL], ['duplication', 1078, 578, 19, BL],
  ['mRNA', 1020, 270, 19, BL], ['splicing,', 1020, 296, 19, BL], ['via splice-', 1020, 322, 19, BL], ['osome', 1020, 343, 19, BL],
  ['mRNA', 1058, 157, 19, BL], ['processing', 1058, 182, 19, BL],
  [goTerms[9], 1285, 103, 17, { w: 700, r: -23 }], [goTerms[0], 1435, 93, 17, { w: 700, r: 17 }], [goTerms[1], 1562, 173, 17, { w: 700, r: 49 }], [goTerms[2], 1615, 313, 17, { w: 700, r: 90 }], [goTerms[3], 1578, 459, 17, { w: 700, r: 120 }],
  [goTerms[4], 1464, 555, 17, { w: 700, r: 157 }], [goTerms[5], 1315, 563, 17, { w: 700, r: 197 }], [goTerms[6], 1188, 484, 17, { w: 700, r: 229 }], [goTerms[7], 1131, 344, 17, { w: 700, r: -90 }], [goTerms[8], 1169, 198, 17, { w: 700, r: -57 }],
  ['z-score', 1228, 663, 14.5], ['decreasing', 1175, 683, 14.5], ['increasing', 1288, 683, 14.5], ['-6', 1175, 726, 17], ['2', 1283, 726, 17],
  ['logFC', 1442, 693, 13], ['downregulated', 1409, 716, 11.5], ['upregulated', 1511, 716, 11.5],
];
const textsEFG: Tx[] = [
  ['logFC', 610, 784, 13], ['\u22122', 557, 831, 13], ['1', 663, 831, 13],
  ['0', 758, 662, 13], ['1', 884, 662, 13], ['Normalized expression', 824, 680, 12],
  ['WT NCD', 802, 729, 15, { w: 700, r: -45 }], ['SA NCD', 872, 726, 15, { w: 700, r: -45 }], ['WT HFD', 921, 726, 15, { w: 700, r: -45 }], ['SA HFD', 978, 729, 15, { w: 700, r: -45 }],
  ['WT chow vs.', 1326, 828, 26, B], ['SA chow', 1326, 859, 26, B], ['WT HFD vs.', 1531, 833, 26, B], ['SA HFD', 1531, 863, 26, B],
  ['557', 1282, 1000, 26, B], ['804', 1421, 1000, 26, B], ['774', 1566, 1000, 26, B], ['B, 4', 1426, 1085, 25, B], ['A, 1', 1363, 1117, 25, B], ['C, 10', 1507, 1115, 25, B], ['D,  15', 1442, 1197, 25, { w: 700, ws: 'pre' }], ['WT chow vs.', 1637, 1191, 26, B], ['WT HFD', 1637, 1221, 26, B],
];
const textsIK: Tx[] = [
  ['Vehicle', 883, 1329, 23, B], ['NRF2A', 982, 1329, 23, B], ['NCD', 869, 1384, 23, { w: 700, r: -60 }], ['HFD', 914, 1385, 23, { w: 700, r: -60 }], ['NCD', 962, 1386, 23, { w: 700, r: -60 }], ['HFD', 1007, 1388, 23, { w: 700, r: -60 }],
  ['100', 789, 1443, 25, B], ['50', 794, 1535, 25, B], ['AHR', 1103, 1448, 24, B], ['\u03b1Tubulin', 1127, 1519, 25, B],
  ['HFD', 1410, 1349, 19, B], ['siCont', 1365, 1391, 19, B], ['siAHR', 1456, 1391, 19, B], ['100', 1271, 1444, 25, B], ['50', 1278, 1539, 25, B], ['AHR', 1591, 1458, 24, B], ['\u03b1Tubulin', 1616, 1517, 25, B],
  ['siCont/HFD BMDMs', 906, 1605, 24, B], ['siAHR/HFD BMDMs', 1290, 1605, 24, B],
  ['FITC-A', 917, 2019, 14], ['FITC-A', 1307, 2019, 14], ['PE-A', 723, 1827, 14, { r: -90 }], ['PE-A', 1116, 1829, 14, { r: -90 }],
  ['Ki67', 673, 1946, 32, { w: 700, r: -90 }], ['SA\u03b2-gal', 783, 2062, 30, B],
  ['SA \u03b2-gal \u207a/Ki67\u207a BMDMs (%)', 1514, 1833, 16, { w: 700, r: -90 }], ['HFD', 1680, 2019, 18, B], ['p=2E-4', 1682, 1661, 25, B],
];
const textsFlow: Tx[] = [
  ['hfdccont siRTNA : All Events', 905, 1662, 14], ['hfd ahrrrr 333 : All Events', 1292, 1665, 14],
  ['Q1-UL(0.93%)', 820, 1688, 15.5], ['Q1-UR(48.43%)', 1005, 1688, 15.5], ['Q1-LL(50.20%)', 823, 1963, 15.5], ['Q1-LR(0.45%)', 1011, 1963, 15.5],
  ['Q1-UL(0.24%)', 1209, 1693, 15.5], ['Q1-UR(16.95%)', 1392, 1693, 15.5], ['Q1-LL(82.73%)', 1212, 1963, 15.5], ['Q1-LR(0.08%)', 1397, 1963, 15.5],
];
const textItems: Tx[] = [
  ...letterTexts,
  ...rescale(textsAB, 0, 0.996, 0, 0.9962),
  ...rescale(textsCD, 600, 0.99617, 0, 0.99434),
  ...textsEFG,
  ...rescale(textsIK, 640, 0.99629, 1290, 0.99647),
  ...textsFlow,
];

const lineItemsRaw: number[][] = [
  [852, 1347, 926, 1347, 2], [938, 1347, 1012, 1347, 2], [813, 1443, 835, 1443, 2.5], [813, 1537, 835, 1537, 2.5],
  [1328, 1370, 1510, 1370, 3], [1322, 1412, 1419, 1412, 3], [1423, 1412, 1520, 1412, 3], [1295, 1443, 1317, 1443, 2.5], [1295, 1538, 1317, 1538, 2.5],
  [764, 1632, 1077, 1632, 3], [1138, 1631, 1452, 1631, 3], [1682, 1971, 1682, 1981, 2.5], [1592, 2006, 1773, 2006, 3], [1562, 1969, 1575, 1969, 3],
  [1045, 1452, 1066, 1452, 3], [1045, 1520, 1066, 1520, 3], [1536, 1462, 1557, 1462, 3], [1533, 1518, 1554, 1518, 3],
  [701, 2032, 701, 1872, 3], [701, 2032, 856, 2032, 3],
];
const kx7 = (x: number) => 640 + (x - 640) * 0.99629;
const ky7 = (y: number) => 1290 + (y - 1290) * 0.99647;
const lineItems = lineItemsRaw.map(([a, b, c, d, w]) => [kx7(a), ky7(b), kx7(c), ky7(d), w]);
const arrowItemsRaw: number[][][] = [
  [[1038, 1452], [1050, 1444], [1050, 1460]], [[1038, 1520], [1050, 1512], [1050, 1528]], [[1528, 1462], [1540, 1454], [1540, 1470]], [[1525, 1518], [1537, 1510], [1537, 1526]], [[701, 1858], [692, 1876], [710, 1876]], [[870, 2032], [852, 2023], [852, 2041]],
];
const arrowItems = arrowItemsRaw.map((tri) => tri.map(([x, y]) => `${kx7(x)},${ky7(y)}`).join(' '));
const brackets: { pts: string; color: string }[] = [
  ...[[622, 707.7], [710, 797], [797, 884], [885, 970]].map(([a, b]) => { const m = (a + b) / 2; return { pts: `${a},166 ${a},156 ${m},156 ${m},147 ${m},156 ${b},156 ${b},166`, color: '#3a6fd8' }; }),
  ...[[760, 817], [821, 877], [879, 935], [937, 993]].map(([a, b]) => ({ pts: `${a},767 ${a},758.5 ${b},758.5 ${b},767`, color: '#111' })),
];

const gradBar = (x: number, y: number, w: number, h: number, grad: string, border = '1px solid #111') => (
  <div style={{ position: 'absolute', left: x, top: y, width: w, height: h, background: grad, border, boxSizing: 'border-box' }} />
);
const box = (x: number, y: number, w: number, h: number, bg: string, extra: any = {}) => (
  <div style={{ position: 'absolute', left: x, top: y, width: w, height: h, background: bg, ...extra }} />
);
const heatGrad = 'linear-gradient(90deg,#0000ff,#000 52%,#ffff00)';

export default function App() {
  const rowY = (i: number) => 1554.3 + 34.57 * i;
  const cellText = (s: string, x: number, i: number) => (
    <div key={s + x + i} style={{ position: 'absolute', left: x, top: rowY(i) - 1.5, transform: 'translateY(-50%)', fontFamily: 'Lato', fontSize: 24, color: '#111', whiteSpace: 'nowrap' }}>{s}</div>
  );
  return (
    <div style={{ position: 'absolute', left: 0, top: 0, width: 1801, height: 2100, overflow: 'hidden', background: '#fff', fontFamily: L }}>
      {panels.map((p, i) => <ChartPanel key={i} p={p} />)}
      {box(551, 976, 129, 30, '#fff')}
      {box(488, 1279, 214, 61, '#fff')}
      <div style={{ position: 'absolute', left: 555, top: 991, transform: 'translateY(-50%)', font: `700 16.5px ${DJ}`, color: '#111' }}>Cell cycle</div>
      <div style={{ position: 'absolute', left: 488, top: 1292, transform: 'translateY(-50%)', font: `700 16.5px ${DJ}`, color: '#111', whiteSpace: 'nowrap' }}>Cellular response to</div>
      <div style={{ position: 'absolute', left: 488, top: 1317, transform: 'translateY(-50%)', font: `700 16.5px ${DJ}`, color: '#111', whiteSpace: 'nowrap' }}>DNA damage stimulus</div>
      {gradBar(815, 51, 129, 20, heatGrad)}
      {gradBar(757, 630, 129, 19, heatGrad)}
      {gradBar(1173, 691, 108, 21, 'linear-gradient(90deg,#2000ff,#c8b0fa 45%,#fff 75%,#fcc5b0)', 'none')}
      {gradBar(557, 799, 107, 21, 'linear-gradient(90deg,#6495ed,#fff 68%,#ffc9c0)', 'none')}
      {box(1339, 700, 22, 24, '#eeeeee')}{box(1345, 707, 10, 10, '#6495e6', { borderRadius: 5 })}
      {box(1449, 700, 22, 24, '#eeeeee')}{box(1455, 707, 10, 10, '#f02828', { borderRadius: 5 })}
      {box(159, 1536.5, 191, 31.5, '#92d050')}{box(159, 1568, 191, 139, '#fff2cc')}{box(159, 1707, 191, 345.5, '#ffff00')}{box(352, 1536.5, 197, 516, '#bdd7ee')}
      {box(157, 1535, 394, 519, 'transparent', { border: '2.5px solid #111', boxSizing: 'border-box' })}
      {box(350, 1535, 2.5, 519, '#111')}
      {tableLeft.flatMap((r, i) => [r[0] ? cellText(r[0], 164, i) : null, cellText(r[1], 237, i)])}
      {cellText('D, 15', 357, 0)}
      {tableRight.map((g, i) => cellText(g, 437, i))}
      <svg width={1801} height={2100} style={{ position: 'absolute', left: 0, top: 0, pointerEvents: 'none' }}>
        {brackets.map((b, i) => <polyline key={i} points={b.pts} fill="none" stroke={b.color} strokeWidth={1.6} />)}
        {lineItems.map((l, i) => <line key={i} x1={l[0]} y1={l[1]} x2={l[2]} y2={l[3]} stroke="#000" strokeWidth={l[4]} />)}
        {arrowItems.map((a, i) => <polygon key={i} points={a} fill="#000" />)}
      </svg>
      {textItems.map(([s, x, y, size, o], i) => {
        const op = o || {};
        const tr = op.a === 'l' ? 'translate(0,-50%)' : 'translate(-50%,-50%)';
        return (
          <div key={i} style={{ position: 'absolute', left: x, top: y, transform: `${tr} rotate(${op.r || 0}deg)`, fontFamily: op.f || L, fontSize: size, fontWeight: op.w || 400, color: op.c || '#111', whiteSpace: op.ws || 'nowrap', lineHeight: 1 }}>{s}</div>
        );
      })}
    </div>
  );
}
